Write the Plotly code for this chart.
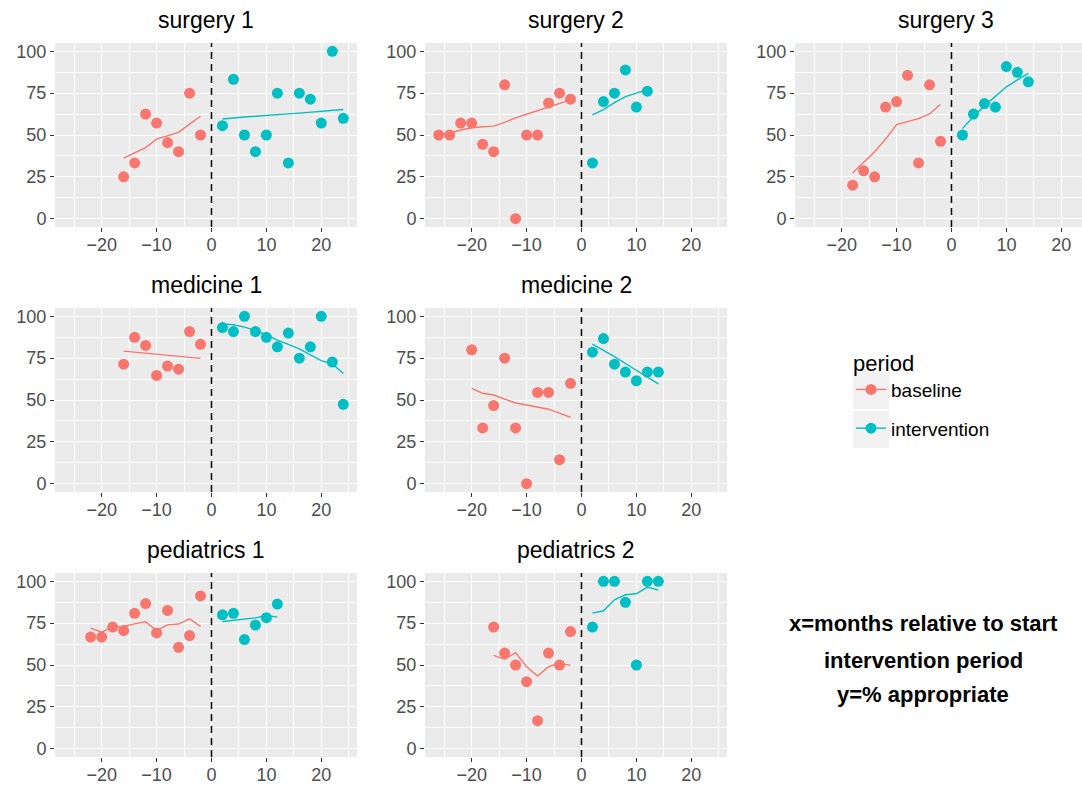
import plotly.graph_objects as go

# ---------------- data ----------------
panel_titles = ["surgery 1", "surgery 2", "surgery 3", "medicine 1", "medicine 2",
                "pediatrics 1", "pediatrics 2"]

# surgery 1
s1_base_x = [-16, -14, -12, -10, -8, -6, -4, -2]
s1_base_y = [25, 33.3, 62.5, 57.1, 45.5, 40, 75, 50]
s1_base_fit = [36.2, 39.5, 42.5, 47.5, 49.5, 51.6, 56.5, 61.2]
s1_int_x = [2, 4, 6, 8, 10, 12, 14, 16, 18, 20, 22, 24]
s1_int_y = [55.6, 83.3, 50, 40, 50, 75, 33.3, 75, 71.4, 57.1, 100, 60]
s1_int_fit = [59.6, 60.3, 60.8, 61.2, 61.8, 62.2, 62.6, 63.1, 63.6, 64.1, 64.6, 65.2]

# surgery 2
s2_base_x = [-26, -24, -22, -20, -18, -16, -14, -12, -10, -8, -6, -4, -2]
s2_base_y = [50, 50, 57.1, 57.1, 44.4, 40, 80, 0, 50, 50, 69.2, 75, 71.4]
s2_base_fit = [50.0, 51.2, 53.0, 54.3, 54.9, 55.3, 57.5, 60.2, 62.4, 64.5, 66.6, 68.7, 71.0]
s2_int_x = [2, 4, 6, 8, 10, 12]
s2_int_y = [33.3, 70, 75, 88.9, 66.7, 76.2]
s2_int_fit = [62.0, 65.2, 69.4, 73.0, 75.0, 77.2]

# surgery 3
s3_base_x = [-18, -16, -14, -12, -10, -8, -6, -4, -2]
s3_base_y = [20, 28.6, 25, 66.7, 70, 85.7, 33.3, 80, 46.2]
s3_base_fit = [27.3, 33.6, 40.0, 47.5, 56.2, 58.0, 59.8, 62.6, 68.2]
s3_int_x = [2, 4, 6, 8, 10, 12, 14]
s3_int_y = [50, 62.5, 68.8, 66.7, 90.9, 87.5, 81.8]
s3_int_fit = [53.8, 61.0, 67.4, 73.2, 78.8, 83.0, 86.8]

# medicine 1
m1_base_x = [-16, -14, -12, -10, -8, -6, -4, -2]
m1_base_y = [71.4, 87.5, 82.6, 64.7, 70.3, 68.4, 90.9, 83.3]
m1_base_fit = [79.2, 78.6, 78.0, 77.4, 76.8, 76.1, 75.5, 74.9]
m1_int_x = [2, 4, 6, 8, 10, 12, 14, 16, 18, 20, 22, 24]
m1_int_y = [93.3, 90.9, 100, 90.9, 87.5, 81.8, 90, 75, 81.8, 100, 72.7, 47.4]
m1_int_fit = [95.4, 95.0, 93.6, 91.6, 89.0, 85.8, 83.2, 80.6, 77.0, 73.5, 71.6, 66.0]

# medicine 2
m2_base_x = [-20, -18, -16, -14, -12, -10, -8, -6, -4, -2]
m2_base_y = [80, 33.3, 46.7, 75, 33.3, 0, 54.5, 54.5, 14.3, 60]
m2_base_fit = [57.0, 54.0, 53.0, 50.6, 48.2, 47.0, 45.8, 44.5, 42.2, 39.6]
m2_int_x = [2, 4, 6, 8, 10, 12, 14]
m2_int_y = [78.6, 86.7, 71.4, 66.7, 61.5, 66.7, 66.7]
m2_int_fit = [83.4, 79.8, 75.9, 71.8, 67.6, 63.6, 59.6]

# pediatrics 1
p1_base_x = [-22, -20, -18, -16, -14, -12, -10, -8, -6, -4, -2]
p1_base_y = [66.7, 66.7, 72.7, 70.6, 80.9, 86.7, 69.2, 82.6, 60.6, 67.6, 91.3]
p1_base_fit = [72.0, 69.6, 72.6, 73.0, 74.6, 75.8, 70.6, 74.0, 74.5, 77.6, 73.0]
p1_int_x = [2, 4, 6, 8, 10, 12]
p1_int_y = [80, 80.9, 65.2, 73.9, 78.3, 86.4]
p1_int_fit = [76.0, 76.6, 77.2, 78.2, 79.6, 78.6]

# pediatrics 2
p2_base_x = [-16, -14, -12, -10, -8, -6, -4, -2]
p2_base_y = [72.7, 57.1, 50, 40, 16.7, 57.1, 50, 70]
p2_base_fit = [55.8, 53.4, 57.4, 49.0, 43.4, 49.0, 51.0, 49.8]
p2_int_x = [2, 4, 6, 8, 10, 12, 14]
p2_int_y = [72.7, 100, 100, 87.5, 50, 100, 100]
p2_int_fit = [81.0, 82.4, 89.0, 92.0, 92.6, 96.6, 94.8]

period_names = ["baseline", "intervention"]
x_ticks = [-20, -10, 0, 10, 20]
y_ticks = [0, 25, 50, 75, 100]
note_lines = ["x=months relative to start", "intervention period", "y=% appropriate"]

panels = [
    (s1_base_x, s1_base_y, s1_base_fit, s1_int_x, s1_int_y, s1_int_fit),
    (s2_base_x, s2_base_y, s2_base_fit, s2_int_x, s2_int_y, s2_int_fit),
    (s3_base_x, s3_base_y, s3_base_fit, s3_int_x, s3_int_y, s3_int_fit),
    (m1_base_x, m1_base_y, m1_base_fit, m1_int_x, m1_int_y, m1_int_fit),
    (m2_base_x, m2_base_y, m2_base_fit, m2_int_x, m2_int_y, m2_int_fit),
    (p1_base_x, p1_base_y, p1_base_fit, p1_int_x, p1_int_y, p1_int_fit),
    (p2_base_x, p2_base_y, p2_base_fit, p2_int_x, p2_int_y, p2_int_fit),
]

# ---------------- layout geometry (pixels) ----------------
W, H = 1082, 786
COLS = [(55, 357), (425, 727), (795, 1082)]
ROWS = [(43, 227), (308, 492), (573, 757)]
TITLE_Y = [20, 285, 550]
FULL_W = 302.0
XR = (-28.5, 26.5)
YR = (-5, 105)
positions = [(0, 0), (0, 1), (0, 2), (1, 0), (1, 1), (2, 0), (2, 1)]

COL_BASE = "#F8766D"
COL_INT = "#00BFC4"
FONT = "Liberation Sans, Arial, sans-serif"

fig = go.Figure()
layout = dict(
    width=W, height=H,
    margin=dict(l=0, r=0, t=0, b=0, autoexpand=False),
    paper_bgcolor="white",
    plot_bgcolor="#EBEBEB",
    font=dict(family=FONT, color="black"),
    showlegend=True,
)
annotations = []
shapes = []

for i, (data, (r, c)) in enumerate(zip(panels, positions)):
    bx, by, bfit, ix, iy, ifit = data
    n = "" if i == 0 else str(i + 1)
    xa, ya = "x" + n, "y" + n
    x0, x1 = COLS[c]
    y0, y1 = ROWS[r]
    xmax = XR[0] + (x1 - x0) / FULL_W * (XR[1] - XR[0])
    axis_common = dict(
        showgrid=True, gridcolor="white", gridwidth=1.2, zeroline=False,
        ticks="outside", ticklen=4, tickwidth=1, tickcolor="#333333",
        tickfont=dict(family=FONT, size=18, color="#4D4D4D"),
        showline=False, fixedrange=True, automargin=False,
    )
    layout["xaxis" + n] = dict(
        axis_common, domain=[x0 / W, x1 / W], range=[XR[0], xmax], anchor=ya,
        tickmode="array", tickvals=x_ticks, ticklabelstandoff=-3,
        minor=dict(dtick=5, tick0=-25, showgrid=True, gridcolor="white", gridwidth=0.6),
    )
    layout["yaxis" + n] = dict(
        axis_common, domain=[1 - y1 / H, 1 - y0 / H], range=list(YR), anchor=xa,
        tickmode="array", tickvals=y_ticks,
        minor=dict(dtick=12.5, tick0=0, showgrid=True, gridcolor="white", gridwidth=0.6),
    )
    # dashed line at x = 0
    shapes.append(dict(type="line", xref=xa, yref=ya + " domain", x0=0, x1=0, y0=0, y1=1,
                       line=dict(color="black", width=1.5, dash="7px,5px"), layer="above"))
    # fits
    fig.add_trace(go.Scatter(x=bx, y=bfit, mode="lines", line=dict(color=COL_BASE, width=1.4),
                             xaxis=xa, yaxis=ya, showlegend=False, hoverinfo="skip"))
    fig.add_trace(go.Scatter(x=ix, y=ifit, mode="lines", line=dict(color=COL_INT, width=1.4),
                             xaxis=xa, yaxis=ya, showlegend=False, hoverinfo="skip"))
    # points
    fig.add_trace(go.Scatter(x=bx, y=by, mode="markers", marker=dict(color=COL_BASE, size=11),
                             xaxis=xa, yaxis=ya, showlegend=False, name=period_names[0]))
    fig.add_trace(go.Scatter(x=ix, y=iy, mode="markers", marker=dict(color=COL_INT, size=11),
                             xaxis=xa, yaxis=ya, showlegend=False, name=period_names[1]))
    # panel title
    annotations.append(dict(text=panel_titles[i], xref="paper", yref="paper",
                            x=(x0 + FULL_W / 2) / W, y=1 - TITLE_Y[r] / H,
                            xanchor="center", yanchor="middle", showarrow=False,
                            font=dict(family=FONT, size=23, color="black")))

# legend entries
for name, col in zip(period_names, [COL_BASE, COL_INT]):
    fig.add_trace(go.Scatter(x=[None], y=[None], mode="lines+markers", name=name,
                             legendgroup=name, marker=dict(color=col, size=11),
                             line=dict(color=col, width=1.4), xaxis="x", yaxis="y"))

# legend key backgrounds
for (ky0, ky1) in [(372, 409), (411, 448)]:
    shapes.append(dict(type="rect", xref="paper", yref="paper",
                       x0=853 / W, x1=889 / W, y0=1 - ky1 / H, y1=1 - ky0 / H,
                       fillcolor="#F2F2F2", line=dict(width=0), layer="below"))

layout["legend"] = dict(
    x=851 / W, y=1 - 342 / H, xanchor="left", yanchor="top",
    bgcolor="rgba(0,0,0,0)", traceorder="grouped", tracegroupgap=11,
    font=dict(family=FONT, size=19, color="black"),
    title=dict(text="period", font=dict(family=FONT, size=22, color="black")),
    itemclick=False, itemdoubleclick=False,
)

for txt, ypx in zip(note_lines, [623, 660, 694]):
    annotations.append(dict(text="<b>" + txt + "</b>", xref="paper", yref="paper",
                            x=923 / W, y=1 - ypx / H, xanchor="center", yanchor="middle",
                            showarrow=False, font=dict(family=FONT, size=22, color="black")))

layout["annotations"] = annotations
layout["shapes"] = shapes
fig.update_layout(**layout)
fig.write_html(
    "out.html",
    config={"displayModeBar": False},
    post_script="document.body.style.margin='0';document.body.style.padding='0';"
                "document.body.style.overflow='hidden';",
)
